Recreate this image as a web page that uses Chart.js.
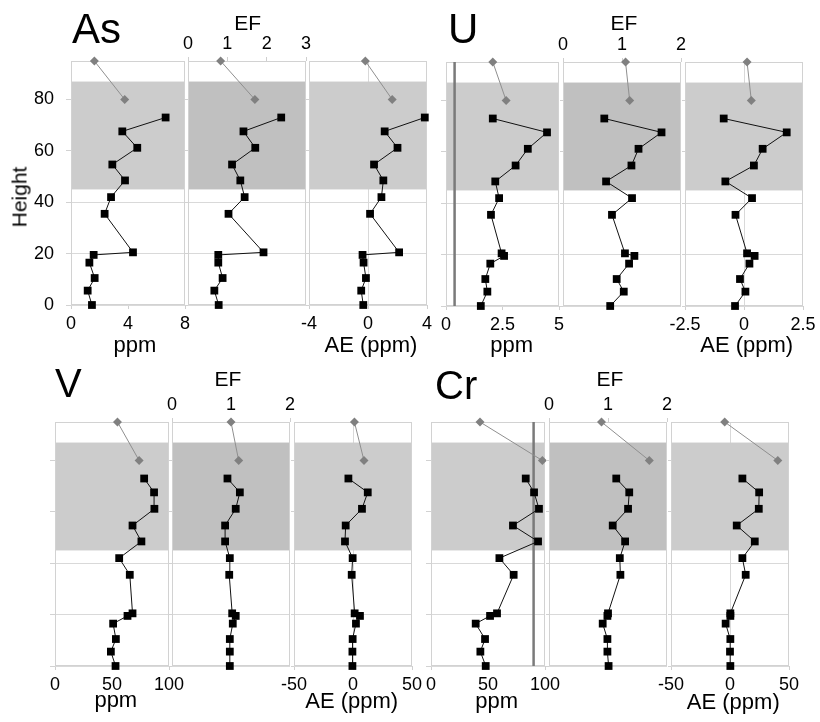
<!DOCTYPE html>
<html>
<head>
<meta charset="utf-8">
<script src="https://cdn.jsdelivr.net/npm/chart.js@4.4.1/dist/chart.umd.min.js"></script>
<style>
  html, body { margin: 0; padding: 0; background: #fff; }
  body { width: 820px; height: 722px; position: relative; overflow: hidden;
         font-family: "Liberation Sans", Arial, sans-serif; }
  canvas { position: absolute; }
  .lbl { position: absolute; white-space: nowrap; color: #000; line-height: 1; }
</style>
</head>
<body>
<script>
// ---- data -------------------------------------------------------------
// sampling heights shared by every profile, plus the two uppermost samples
const heights    = [0, 5.6, 10.5, 16.5, 19.5, 20.5, 35.5, 42, 48.5, 54.7, 61.2, 67.6, 73];
const topHeights = [80, 95];
const heightTicks = [0, 20, 40, 60, 80];
const bandRange  = [45, 87];   // shaded interval

// As
const asPpm    = [1.47, 1.17, 1.66, 1.29, 1.59, 4.35, 2.36, 2.81, 3.79, 2.90, 4.65, 3.60, 6.64];
const asPpmTop = [3.77, 1.64];
const asEf     = [0.78, 0.67, 0.88, 0.77, 0.77, 1.92, 1.03, 1.44, 1.33, 1.12, 1.71, 1.41, 2.37];
const asEfTop  = [1.70, 0.83];
const asAe     = [-0.32, -0.46, -0.14, -0.30, -0.37, 2.11, 0.14, 0.91, 1.04, 0.41, 2.00, 1.13, 3.85];
const asAeTop  = [1.64, -0.18];

// U
const uPpm    = [1.54, 1.83, 1.74, 1.96, 2.57, 2.46, 1.99, 2.35, 2.18, 3.08, 3.62, 4.47, 2.07];
const uPpmTop = [2.66, 2.07];
const uEf     = [0.80, 1.03, 0.91, 1.12, 1.21, 1.05, 0.83, 1.17, 0.73, 1.16, 1.28, 1.67, 0.70];
const uEfTop  = [1.13, 1.06];
const uAe     = [-0.38, 0.06, -0.17, 0.23, 0.45, 0.13, -0.36, 0.34, -0.79, 0.42, 0.79, 1.81, -0.86];
const uAeTop  = [0.31, 0.13];
const uRefPpm = 0.38;

// V
const vPpm    = [53.1, 49.0, 53.4, 51.0, 63.6, 68.0, 65.6, 56.3, 75.8, 68.0, 87.2, 86.9, 78.2];
const vPpmTop = [73.8, 54.8];
const vEf     = [0.98, 0.98, 0.98, 1.03, 1.08, 1.02, 0.97, 0.98, 0.90, 0.90, 1.08, 1.15, 0.94];
const vEfTop  = [1.13, 1.00];
const vAe     = [-0.5, -0.5, -0.3, 2.5, 5.9, 1.4, -1.1, -0.3, -6.8, -6.2, 7.6, 12.5, -3.9];
const vAeTop  = [9.3, 1.2];

// Cr
const crPpm    = [48.0, 43.3, 47.4, 39.2, 51.8, 57.9, 72.5, 60.0, 93.9, 71.9, 94.7, 90.4, 83.1];
const crPpmTop = [97.7, 43.0];
const crEf     = [1.01, 0.99, 0.99, 0.91, 0.99, 1.00, 1.21, 1.20, 1.29, 1.08, 1.34, 1.36, 1.14];
const crEfTop  = [1.70, 0.89];
const crAe     = [0.3, 0.0, 0.3, -3.7, 0.3, 0.3, 13.3, 10.5, 21.0, 5.7, 24.4, 24.7, 10.5];
const crAeTop  = [40.5, -4.5];
const crRefPpm = 90;

// axis tick values
const asPpmTicks = [0, 4, 8],     asEfTicks = [0, 1, 2, 3],  asAeTicks = [-4, 0, 4];
const uPpmTicks  = [0, 2.5, 5],   uEfTicks  = [0, 1, 2],     uAeTicks  = [-2.5, 0, 2.5];
const vPpmTicks  = [0, 50, 100],  vEfTicks  = [0, 1, 2],     vAeTicks  = [-50, 0, 50];
const crPpmTicks = [0, 50, 100],  crEfTicks = [0, 1, 2],     crAeTicks = [-50, 0, 50];

// ---- layout -----------------------------------------------------------
const FONT = '"Liberation Sans", Arial, sans-serif';
const M = 50;      // canvas margin around each plot area
const AXIS = 40;   // fixed room given to each axis inside that margin

const panels = [
  // As
  { l: 71,  r: 185, t: 61,  b: 305, kind: 'ppm', vals: asPpm, top: asPpmTop, ticks: asPpmTicks, showY: true },
  { l: 188, r: 306, t: 61,  b: 305, kind: 'ef',  vals: asEf,  top: asEfTop,  ticks: asEfTicks },
  { l: 309, r: 427, t: 61,  b: 305, kind: 'ae',  vals: asAe,  top: asAeTop,  ticks: asAeTicks },
  // U
  { l: 446, r: 559, t: 62,  b: 306, kind: 'ppm', vals: uPpm, top: uPpmTop, ticks: uPpmTicks, ref: uRefPpm },
  { l: 563, r: 681, t: 62,  b: 306, kind: 'ef',  vals: uEf,  top: uEfTop,  ticks: uEfTicks },
  { l: 685, r: 803, t: 62,  b: 306, kind: 'ae',  vals: uAe,  top: uAeTop,  ticks: uAeTicks },
  // V
  { l: 55,  r: 169, t: 422, b: 666, kind: 'ppm', vals: vPpm, top: vPpmTop, ticks: vPpmTicks },
  { l: 172, r: 290, t: 422, b: 666, kind: 'ef',  vals: vEf,  top: vEfTop,  ticks: vEfTicks },
  { l: 294, r: 412, t: 422, b: 666, kind: 'ae',  vals: vAe,  top: vAeTop,  ticks: vAeTicks },
  // Cr
  { l: 431, r: 545, t: 422, b: 666, kind: 'ppm', vals: crPpm, top: crPpmTop, ticks: crPpmTicks, ref: crRefPpm },
  { l: 549, r: 667, t: 422, b: 666, kind: 'ef',  vals: crEf,  top: crEfTop,  ticks: crEfTicks },
  { l: 671, r: 789, t: 422, b: 666, kind: 'ae',  vals: crAe,  top: crAeTop,  ticks: crAeTicks }
];

// shaded band + frame, painted over the grid and under the data
const panelDecor = {
  id: 'panelDecor',
  beforeDatasetsDraw(chart, args, opts) {
    const { ctx, chartArea: a, scales: { y } } = chart;
    const y1 = y.getPixelForValue(bandRange[1]);
    const y0 = y.getPixelForValue(bandRange[0]);
    ctx.save();
    ctx.fillStyle = opts.band;
    ctx.fillRect(a.left, y1, a.right - a.left, y0 - y1);
    ctx.strokeStyle = '#d2d2d2';
    ctx.lineWidth = 1;
    ctx.strokeRect(a.left + 0.5, a.top + 0.5, a.right - a.left - 1, a.bottom - a.top - 1);
    ctx.restore();
  }
};

Chart.defaults.font.family = FONT;
Chart.defaults.color = '#000';

panels.forEach(p => {
  const w = p.r - p.l, h = p.b - p.t;
  const cv = document.createElement('canvas');
  cv.width = w + 2 * M;
  cv.height = h + 2 * M;
  cv.style.left = (p.l - M) + 'px';
  cv.style.top = (p.t - M) + 'px';
  cv.style.width = cv.width + 'px';
  cv.style.height = cv.height + 'px';
  document.body.appendChild(cv);

  const xTop = p.kind === 'ef';
  const xMin = p.ticks[0], xMax = p.ticks[p.ticks.length - 1];
  const datasets = [
    {
      data: heights.map((hv, i) => ({ x: p.vals[i], y: hv })),
      showLine: true, borderColor: '#111', borderWidth: 1,
      pointStyle: 'rect', pointRadius: 5.5, pointBackgroundColor: '#000',
      pointBorderWidth: 0, clip: false
    },
    {
      data: topHeights.map((hv, i) => ({ x: p.top[i], y: hv })),
      showLine: true, borderColor: '#8f8f8f', borderWidth: 1,
      pointStyle: 'rectRot', pointRadius: 4.5, pointBackgroundColor: '#808080',
      pointBorderWidth: 0, clip: false
    }
  ];
  if (p.ref !== undefined) {
    datasets.push({
      data: [{ x: p.ref, y: 0 }, { x: p.ref, y: 95 }],
      showLine: true, borderColor: '#7a7a7a', borderWidth: 2.5, pointRadius: 0
    });
  }

  new Chart(cv, {
    type: 'scatter',
    data: { datasets },
    plugins: [panelDecor],
    options: {
      responsive: false, maintainAspectRatio: false, animation: false,
      devicePixelRatio: 1, events: [],
      layout: {
        padding: {
          left: M - AXIS, right: M,
          top: xTop ? M - AXIS : M,
          bottom: xTop ? M : M - AXIS
        }
      },
      plugins: {
        legend: { display: false }, tooltip: { enabled: false },
        panelDecor: { band: p.kind === 'ef' ? '#c0c0c0' : '#cccccc' }
      },
      scales: {
        x: {
          type: 'linear', position: xTop ? 'top' : 'bottom',
          min: xMin, max: xMax,
          afterBuildTicks: s => { s.ticks = p.ticks.map(v => ({ value: v })); },
          afterFit: s => { s.height = AXIS; },
          ticks: { font: { size: 18 }, color: '#000', padding: xTop ? 2 : 4,
                   maxRotation: 0, autoSkip: false },
          grid: {
            color: c => (p.kind === 'ae' && c.tick && c.tick.value === 0) ? '#d9d9d9' : 'rgba(0,0,0,0)',
            tickColor: '#cfcfcf', tickLength: 4
          },
          border: { display: false }
        },
        y: {
          type: 'linear', min: 0, max: 95,
          afterBuildTicks: s => { s.ticks = heightTicks.map(v => ({ value: v })); },
          afterFit: s => { s.width = AXIS; },
          ticks: { display: !!p.showY, font: { size: 18 }, color: '#000', padding: 12 },
          grid: { color: '#d9d9d9', tickColor: '#d2d2d2', tickLength: p.kind === 'ppm' ? 5 : 3 },
          border: { display: false }
        }
      }
    }
  });
});

// ---- text -------------------------------------------------------------
function label(text, size, x, baseline, align) {
  const d = document.createElement('div');
  d.className = 'lbl';
  d.textContent = text;
  d.style.fontSize = size + 'px';
  d.style.top = (baseline - 0.8465 * size) + 'px';
  d.style.left = x + 'px';
  if (align === 'center') d.style.transform = 'translateX(-50%)';
  document.body.appendChild(d);
  return d;
}

// element names
label('As', 42, 72, 43.3, 'left');
label('U', 42, 448, 43.3, 'left');
label('V', 40, 55, 397, 'left');
label('Cr', 40, 435, 399, 'left');

// EF titles
label('EF', 21, 247.7, 29.3, 'center');
label('EF', 21, 624, 29.3, 'center');
label('EF', 21, 228, 386, 'center');
label('EF', 21, 610, 386, 'center');

// bottom titles
label('ppm', 22, 135, 353, 'center');
label('AE (ppm)', 22, 371, 353, 'center');
label('ppm', 22, 511.7, 353, 'center');
label('AE (ppm)', 22, 746.7, 353, 'center');
label('ppm', 22, 115.8, 708, 'center');
label('AE (ppm)', 22, 351.7, 709, 'center');
label('ppm', 22, 496.7, 709, 'center');
label('AE (ppm)', 22, 733.3, 710, 'center');

// vertical axis title
const ht = document.createElement('div');
ht.className = 'lbl';
ht.textContent = 'Height';
ht.style.fontSize = '21px';
ht.style.lineHeight = '21px';
ht.style.left = '19.4px';
ht.style.top = '196.7px';
ht.style.transform = 'translate(-50%, -50%) rotate(-90deg)';
document.body.appendChild(ht);
</script>
</body>
</html>
